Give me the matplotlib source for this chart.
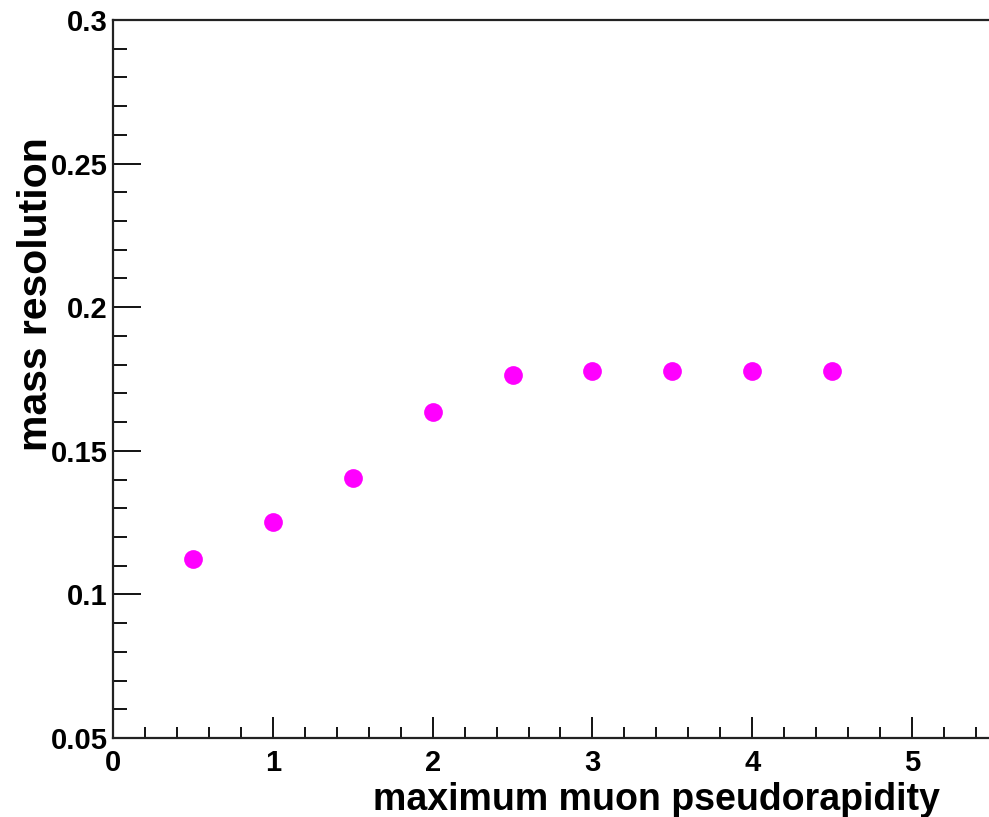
import numpy as np
import matplotlib
matplotlib.use("Agg")
import matplotlib.pyplot as plt
from matplotlib.ticker import MultipleLocator

# resolution vs. max |eta| cut
eta_max = [0.5, 1.0, 1.5, 2.0, 2.5, 3.0, 3.5, 4.0, 4.5]
mass_res = [0.1123, 0.1252, 0.1405, 0.1635, 0.1765, 0.1778, 0.1778, 0.1778, 0.1778]

plt.rcParams['font.family'] = ['Liberation Sans', 'DejaVu Sans']
plt.rcParams['font.weight'] = 'bold'

fig = plt.figure(figsize=(9.89, 8.17), dpi=100)
W, H = 989.0, 817.0
left, right, top, bottom = 113, 992, 20, 738
ax = fig.add_axes([left / W, 1 - bottom / H, (right - left) / W, (bottom - top) / H])

ax.plot(eta_max, mass_res, linestyle='none', marker='o', markersize=13.5,
        color='#ff00ff', markeredgewidth=0)

ax.set_xlim(0, 5.5)
ax.set_ylim(0.05, 0.3)

ax.xaxis.set_major_locator(MultipleLocator(1))
ax.xaxis.set_minor_locator(MultipleLocator(0.2))
ax.yaxis.set_major_locator(MultipleLocator(0.05))
ax.yaxis.set_minor_locator(MultipleLocator(0.01))

ax.tick_params(axis='x', which='major', direction='in', length=15, width=1.3,
               labelsize=21, pad=8, top=False)
ax.tick_params(axis='x', which='minor', direction='in', length=8, width=1.3, top=False)
ax.tick_params(axis='y', which='major', direction='in', length=20, width=1.3,
               labelsize=21, pad=4, right=False)
ax.tick_params(axis='y', which='minor', direction='in', length=10, width=1.3, right=False)

ax.set_xticks([0, 1, 2, 3, 4, 5])
ax.set_xticklabels(['0', '1', '2', '3', '4', '5'])
ax.set_yticks([0.05, 0.1, 0.15, 0.2, 0.25, 0.3])
ax.set_yticklabels(['0.05', '0.1', '0.15', '0.2', '0.25', '0.3'])

for s in ['left', 'bottom', 'top']:
    ax.spines[s].set_linewidth(1.6)
    ax.spines[s].set_color('#222222')
ax.spines['right'].set_visible(False)

fig.text(940 / W, 1 - 810 / H, 'maximum muon pseudorapidity', ha='right', va='baseline',
         fontsize=27, fontweight='bold')
fig.text(17 / W, 1 - 137 / H, 'mass resolution', ha='right', va='top', rotation=90,
         fontsize=29.5, fontweight='bold', rotation_mode='anchor')

fig.savefig('out.png', dpi=100)
